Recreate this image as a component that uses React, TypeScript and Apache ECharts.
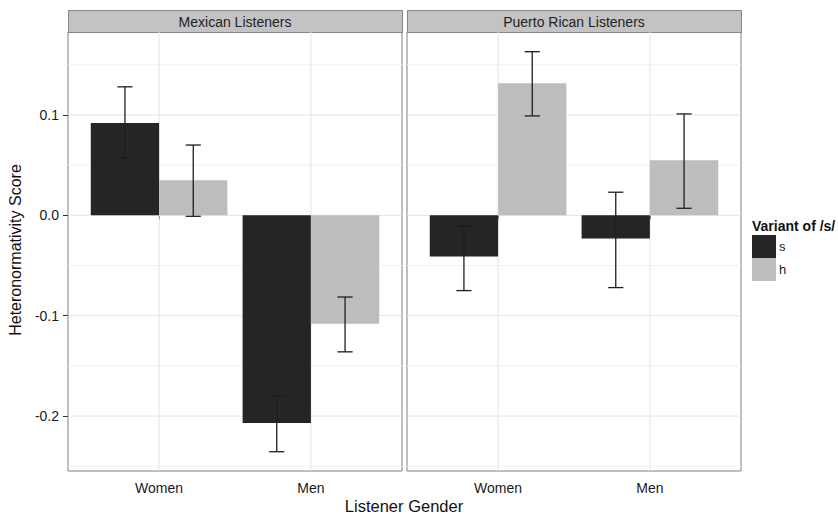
import React, { useEffect, useRef } from 'react';
import * as echarts from 'echarts';

const panels = ['Mexican Listeners', 'Puerto Rican Listeners'];
const genders = ['Women', 'Men'];
const variants = ['s', 'h'];
const yTicks = [-0.2, -0.1, 0.0, 0.1];
const yMinor = [-0.25, -0.15, -0.05, 0.05, 0.15];

// Mexican listeners
const mexS = [0.092, -0.207];
const mexSLow = [0.057, -0.2355];
const mexSHigh = [0.128, -0.180];
const mexH = [0.035, -0.108];
const mexHLow = [-0.001, -0.136];
const mexHHigh = [0.070, -0.0814];
// Puerto Rican listeners
const prS = [-0.041, -0.023];
const prSLow = [-0.075, -0.072];
const prSHigh = [-0.0107, 0.023];
const prH = [0.1315, 0.0548];
const prHLow = [0.099, 0.007];
const prHHigh = [0.163, 0.101];

const COLORS: Record<string, string> = { s: '#252525', h: '#bdbdbd' };
const FONT = 'Liberation Sans, Arial, sans-serif';
const Y_MIN = -0.2547;
const Y_MAX = 0.1826;
const X_MIN = 0.4;
const X_MAX = 2.6;
const DODGE = 0.225;
const CAP = 0.05;

const build = (vals: number[], lo: number[], hi: number[]) =>
  genders.map((_, i) => [i + 1, vals[i], lo[i], hi[i]]);

const barRender = (offset: number, color: string) => (params: any, api: any) => {
  const c = api.value(0) + offset;
  const v = api.value(1);
  const lo = api.value(2);
  const hi = api.value(3);
  const p0 = api.coord([c - DODGE, 0]);
  const p1 = api.coord([c + DODGE, v]);
  const eLo = api.coord([c, lo]);
  const eHi = api.coord([c, hi]);
  const cl = api.coord([c - CAP, lo])[0];
  const cr = api.coord([c + CAP, lo])[0];
  const es = { stroke: '#1e1e1e', lineWidth: 1.3 };
  return {
    type: 'group',
    children: [
      {
        type: 'rect',
        shape: {
          x: Math.min(p0[0], p1[0]),
          y: Math.min(p0[1], p1[1]),
          width: Math.abs(p1[0] - p0[0]),
          height: Math.abs(p1[1] - p0[1]),
        },
        style: { fill: color },
      },
      { type: 'line', shape: { x1: eLo[0], y1: eLo[1], x2: eHi[0], y2: eHi[1] }, style: es },
      { type: 'line', shape: { x1: cl, y1: eLo[1], x2: cr, y2: eLo[1] }, style: es },
      { type: 'line', shape: { x1: cl, y1: eHi[1], x2: cr, y2: eHi[1] }, style: es },
    ],
  };
};

const hGridRender = (color: string) => (params: any, api: any) => {
  const cs = params.coordSys;
  const y = api.coord([1, api.value(0)])[1];
  return {
    type: 'line',
    shape: { x1: cs.x, y1: y, x2: cs.x + cs.width, y2: y },
    style: { stroke: color, lineWidth: 1 },
  };
};

const vGridRender = (params: any, api: any) => {
  const cs = params.coordSys;
  const x = api.coord([api.value(0), 0])[0];
  return {
    type: 'line',
    shape: { x1: x, y1: cs.y, x2: x, y2: cs.y + cs.height },
    style: { stroke: '#e3e3e3', lineWidth: 1 },
  };
};

export default function App() {
  const ref = useRef<HTMLDivElement>(null);
  useEffect(() => {
    document.body.style.margin = '0';
    const chart = echarts.init(ref.current!, null, { renderer: 'svg' });
    const gridLefts = [68, 407];
    const panelData = [
      { s: build(mexS, mexSLow, mexSHigh), h: build(mexH, mexHLow, mexHHigh) },
      { s: build(prS, prSLow, prSHigh), h: build(prH, prHLow, prHHigh) },
    ];
    const series: any[] = [];
    panelData.forEach((pd, i) => {
      series.push({
        type: 'custom', name: 'minor' + i, xAxisIndex: i, yAxisIndex: i, z: 1, silent: true,
        renderItem: hGridRender('#f1f1f1'), data: yMinor.map((v) => [v]),
      });
      series.push({
        type: 'custom', name: 'major' + i, xAxisIndex: i, yAxisIndex: i, z: 1, silent: true,
        renderItem: hGridRender('#e3e3e3'), data: yTicks.map((v) => [v]),
      });
      series.push({
        type: 'custom', name: 'vgrid' + i, xAxisIndex: i, yAxisIndex: i, z: 1, silent: true,
        renderItem: vGridRender, data: genders.map((_, k) => [k + 1]),
      });
      variants.forEach((vn, k) => {
        series.push({
          type: 'custom', name: vn, xAxisIndex: i, yAxisIndex: i, z: 3,
          itemStyle: { color: COLORS[vn] },
          renderItem: barRender(k === 0 ? -DODGE : DODGE, COLORS[vn]),
          data: (pd as any)[vn],
        });
      });
    });

    const graphic: any[] = [];
    panels.forEach((p, i) => {
      graphic.push({
        type: 'rect', left: gridLefts[i], top: 10,
        shape: { width: 334, height: 22 },
        style: { fill: '#c3c3c3', stroke: '#858585', lineWidth: 1 },
      });
      graphic.push({
        type: 'text', x: gridLefts[i] + 167, y: 22,
        style: { text: p, fill: '#222', font: `14px ${FONT}`, textAlign: 'center', textVerticalAlign: 'middle' },
      });
    });
    graphic.push({
      type: 'text', x: 15, y: 250, rotation: Math.PI / 2,
      style: { text: 'Heteronormativity Score', fill: '#111', font: `16px ${FONT}`, textAlign: 'center', textVerticalAlign: 'middle' },
    });
    graphic.push({
      type: 'text', x: 404, y: 506,
      style: { text: 'Listener Gender', fill: '#111', font: `16.5px ${FONT}`, textAlign: 'center', textVerticalAlign: 'middle' },
    });
    graphic.push({
      type: 'text', x: 752, y: 226,
      style: { text: 'Variant of /s/', fill: '#111', font: `bold 14px ${FONT}`, textAlign: 'left', textVerticalAlign: 'middle' },
    });

    chart.setOption({
      animation: false,
      backgroundColor: '#ffffff',
      grid: gridLefts.map((l) => ({
        left: l, top: 32, width: 334, height: 439,
        show: true, borderColor: '#808080', borderWidth: 1, backgroundColor: '#ffffff',
      })),
      xAxis: gridLefts.map((_, i) => ({
        type: 'value', gridIndex: i, min: X_MIN, max: X_MAX,
        axisLine: { show: false },
        splitLine: { show: false },
        axisTick: { show: true, customValues: [1, 2], length: 4, lineStyle: { color: '#333' } },
        axisLabel: {
          customValues: [1, 2], margin: 10, color: '#1a1a1a', fontSize: 14, fontFamily: FONT,
          formatter: (v: number) => genders[Math.round(v) - 1] ?? '',
        },
      })),
      yAxis: gridLefts.map((_, i) => ({
        type: 'value', gridIndex: i, min: Y_MIN, max: Y_MAX,
        axisLine: { show: false },
        splitLine: { show: false },
        axisTick: { show: i === 0, customValues: yTicks, length: 5, lineStyle: { color: '#333' } },
        axisLabel: {
          show: i === 0, customValues: yTicks, margin: 9, color: '#1a1a1a', fontSize: 14, fontFamily: FONT,
          formatter: (v: number) => v.toFixed(1),
        },
      })),
      legend: {
        data: variants.map((v) => ({ name: v, icon: 'rect' })),
        orient: 'vertical', left: 752, top: 235, padding: 0,
        itemWidth: 24, itemHeight: 23, itemGap: 0,
        textStyle: { fontSize: 13, color: '#1a1a1a', fontFamily: FONT, padding: [0, 0, 0, -2] },
        selectedMode: false,
      },
      graphic,
      series,
    });
    return () => chart.dispose();
  }, []);
  return <div ref={ref} style={{ width: 838, height: 514 }} />;
}
